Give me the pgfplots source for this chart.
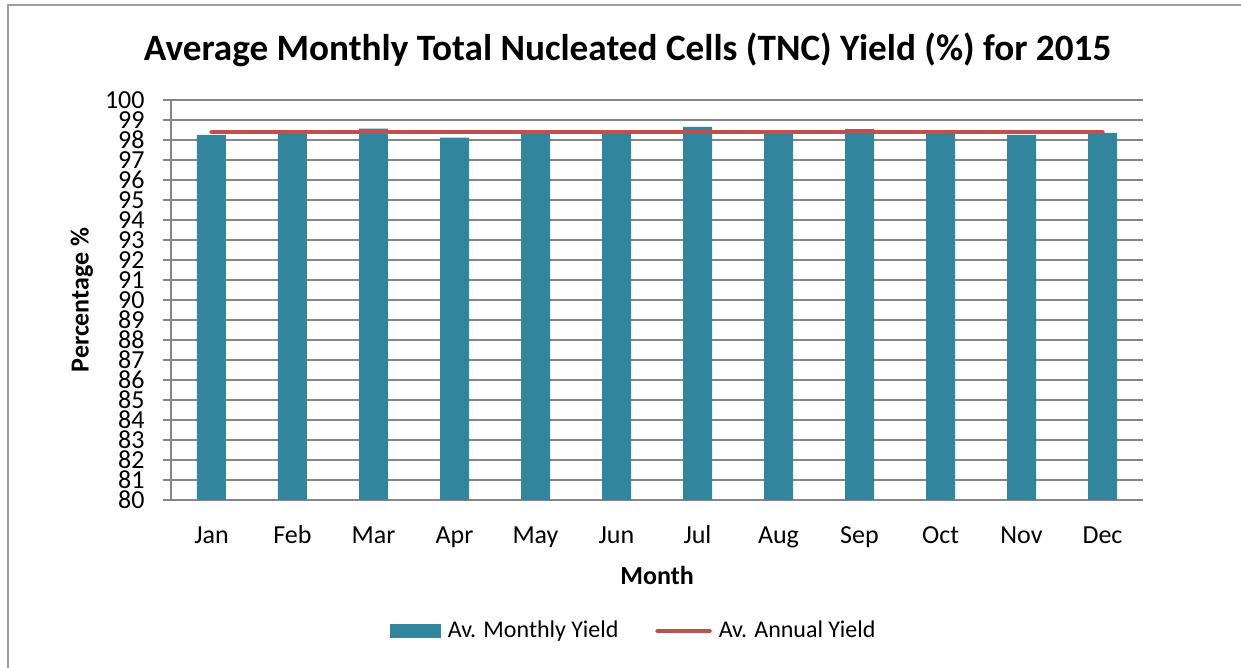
\documentclass[border=0pt]{standalone}
\usepackage{pgfplots}
\pgfplotsset{compat=1.18}
\usepackage{fontspec}
\setmainfont{Carlito}
\definecolor{barteal}{HTML}{31859C}
\definecolor{linered}{HTML}{C0504D}
\definecolor{gridgray}{HTML}{868686}
\pgfplotstableread{
x month val
0 Jan 98.25
1 Feb 98.40
2 Mar 98.57
3 Apr 98.12
4 May 98.40
5 Jun 98.40
6 Jul 98.65
7 Aug 98.40
8 Sep 98.54
9 Oct 98.40
10 Nov 98.25
11 Dec 98.35
}\monthly
\pgfplotstableread{
x val
0 98.4
11 98.4
}\annual
\begin{document}
\begin{tikzpicture}
\path[use as bounding box] (-85.5pt,-84pt) rectangle (535pt,250pt);
\draw[gridgray!80, line width=0.9pt] (-81.5pt,-84pt) -- (-81.5pt,247.5pt) -- (535pt,247.5pt);
\begin{axis}[
  scale only axis,
  width=486pt, height=200pt,
  xmin=-0.5, xmax=11.5,
  ymin=80, ymax=100,
  ytick={80,81,...,100},
  xtick=data,
  xticklabels={Jan,Feb,Mar,Apr,May,Jun,Jul,Aug,Sep,Oct,Nov,Dec},
  major x tick style={draw=none},
  ytick style={draw=gridgray, line width=0.7pt},
  tick align=outside,
  major tick length=4pt,
  ymajorgrids,
  grid style={draw=gridgray, line width=0.7pt},
  axis x line*=bottom,
  axis y line*=left,
  axis line style={draw=gridgray, line width=0.7pt, -},
  /pgf/number format/assume math mode=true,
  tick label style={font=\fontsize{13}{13}\selectfont},
  yticklabel style={inner sep=0pt, text height=8.2pt, text depth=0pt, anchor=east, xshift=-9pt},
  xticklabel style={inner sep=0pt, anchor=center, text height=1.4ex, text depth=0.3ex, yshift=-15pt},
  title={Average Monthly Total Nucleated Cells (TNC) Yield (\%) for 2015},
  title style={at={(axis description cs:0.4697,1.095)}, anchor=center, font=\fontsize{18.6}{20}\selectfont\bfseries},
  xlabel={Month},
  xlabel style={at={(axis description cs:0.5,-0.1875)}, anchor=center, font=\fontsize{13}{14}\selectfont\bfseries},
  ylabel={Percentage \%},
  every axis y label/.style={at={(axis description cs:-0.0916,0.5)}, rotate=90, anchor=center, font=\fontsize{13}{14}\selectfont\bfseries},
  legend columns=2,
  legend style={at={(axis description cs:0.477,-0.3275)}, anchor=center, draw=none, fill=none,
    font=\fontsize{12}{13}\selectfont, /tikz/every even column/.append style={column sep=16.5pt},
    /tikz/every odd column/.append style={column sep=1.5pt}},
]
\addplot[ybar, bar width=0.358, fill=barteal, draw=none,
  legend image code/.code={\fill[barteal] (0pt,-3.5pt) rectangle (25.5pt,3.5pt);}]
  table[x=x, y=val] {\monthly};
\addlegendentry{Av. Monthly Yield}
\addplot[linered, line width=2.2pt, line cap=round, mark=none,
  legend image code/.code={\draw[linered, line width=2.2pt, line cap=round] (0pt,0pt) -- (26pt,0pt);}]
  table[x=x, y=val] {\annual};
\addlegendentry{Av. Annual Yield}
\end{axis}
\end{tikzpicture}
\end{document}
